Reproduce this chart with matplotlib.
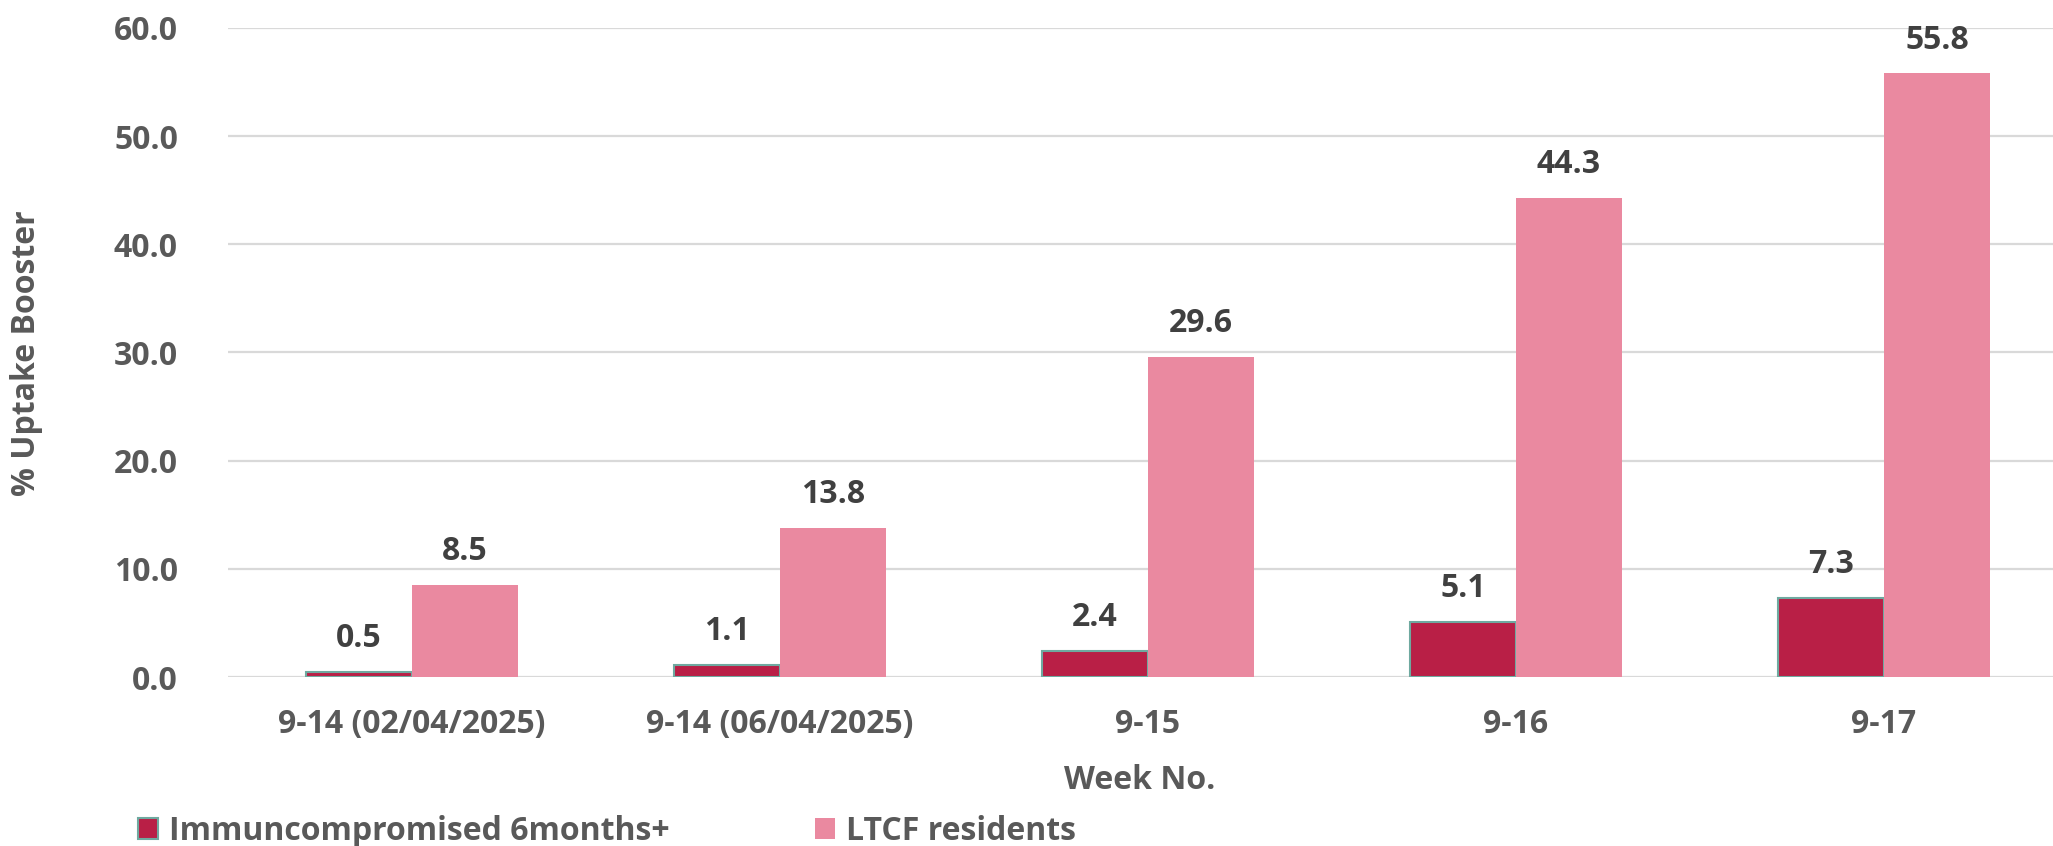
import matplotlib
matplotlib.use("Agg")
import matplotlib.pyplot as plt
import numpy as np
from matplotlib.patches import Patch

categories = ["9-14 (02/04/2025)", "9-14 (06/04/2025)", "9-15", "9-16", "9-17"]
immuno = [0.5, 1.1, 2.4, 5.1, 7.3]
ltcf = [8.5, 13.8, 29.6, 44.3, 55.8]
series_names = ["Immuncompromised 6months+", "LTCF residents"]
yticks = [0, 10, 20, 30, 40, 50, 60]

plt.rcParams['font.family'] = ['Open Sans', 'DejaVu Sans']
plt.rcParams['font.weight'] = 'bold'

W, H = 2053, 846
fig = plt.figure(figsize=(W / 100, H / 100), dpi=100)
ax_left, ax_right, ax_top, ax_bot = 228, 2053, 28, 677
ax = fig.add_axes([ax_left / W, 1 - ax_bot / H, (ax_right - ax_left) / W, (ax_bot - ax_top) / H])

c_dark = "#B91F46"
c_pink = "#EA89A0"
c_edge = "#6FA9A0"
tick_col = "#595959"
lab_col = "#404040"

x = np.arange(len(categories))
bw = 0.288
b1 = ax.bar(x - bw / 2, immuno, bw, color=c_dark, edgecolor=c_edge, linewidth=1.5, zorder=3)
b2 = ax.bar(x + bw / 2, ltcf, bw, color=c_pink, edgecolor="none", zorder=3)

for bars, vals in ((b1, immuno), (b2, ltcf)):
    for r, v in zip(bars, vals):
        ax.annotate(f"{v:.1f}", (r.get_x() + r.get_width() / 2, v), xytext=(0, 12),
                    textcoords="offset points", ha="center", va="bottom",
                    fontsize=23, fontweight="bold", color=lab_col)

ax.set_xlim(-0.5, (ax_right - 412) / 368 - 0.0)
ax.set_ylim(0, 60)
ax.set_yticks(yticks)
ax.set_yticklabels([f"{v:.1f}" for v in yticks])
ax.set_xticks(x)
ax.set_xticklabels(categories)
ax.tick_params(axis="both", length=0, labelsize=23, labelcolor=tick_col)
ax.tick_params(axis="y", pad=36)
ax.tick_params(axis="x", pad=22)
for lab in ax.get_xticklabels() + ax.get_yticklabels():
    lab.set_fontweight("bold")

ax.grid(axis="y", color="#D9D9D9", linewidth=1.6, zorder=0)
ax.set_axisbelow(True)
for s in ax.spines.values():
    s.set_visible(False)

fig.text(1140 / W, 1 - 780 / H, "Week No.", ha="center", va="center",
         fontsize=23, fontweight="bold", color=tick_col)
fig.text(27 / W, 1 - 353 / H, "% Uptake Booster", ha="center", va="center", rotation=90,
         fontsize=23, fontweight="bold", color=tick_col)

h1 = Patch(facecolor=c_dark, edgecolor=c_edge, linewidth=1.5)
h2 = Patch(facecolor=c_pink, edgecolor="none")
kw = dict(frameon=False, fontsize=23, handlelength=0.62, handleheight=0.66,
          handletextpad=0.35, borderpad=0, borderaxespad=0, labelcolor=tick_col,
          prop={'weight': 'bold', 'size': 23})
kw.pop('fontsize')
leg1 = fig.legend([h1], [series_names[0]], loc="center left",
                  bbox_to_anchor=(138 / W, 1 - 831 / H), **kw)
leg2 = fig.legend([h2], [series_names[1]], loc="center left",
                  bbox_to_anchor=(815 / W, 1 - 831 / H), **kw)

fig.savefig("out.png", dpi=100)
